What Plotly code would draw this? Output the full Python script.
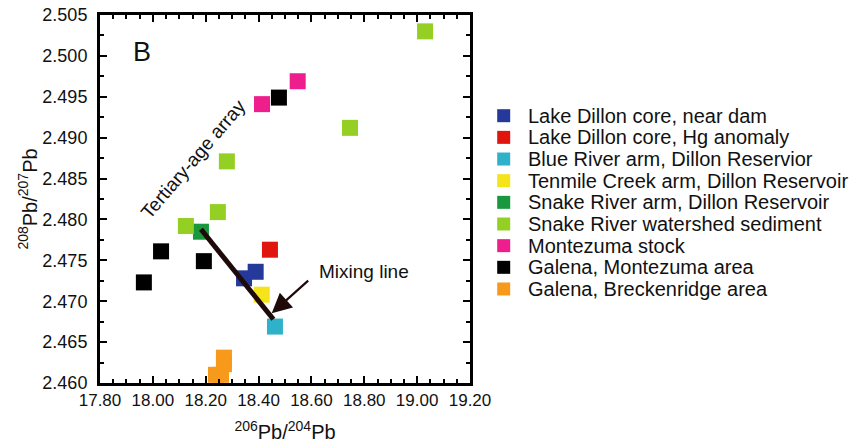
import plotly.graph_objects as go

# ---- data ----
series_names = [
    "Lake Dillon core, near dam",
    "Lake Dillon core, Hg anomaly",
    "Blue River arm, Dillon Reservior",
    "Tenmile Creek arm, Dillon Reservoir",
    "Snake River arm, Dillon Reservoir",
    "Snake River watershed sediment",
    "Montezuma stock",
    "Galena, Montezuma area",
    "Galena, Breckenridge area",
]
series_colors = ["#25399a", "#e0150d", "#2fb2c9", "#f6e41b", "#1a983d",
                 "#94cf23", "#ee1e8c", "#000000", "#f7991a"]

lake_dam_x = [18.345, 18.389]
lake_dam_y = [2.4728, 2.4736]
hg_x = [18.443]
hg_y = [2.4763]
blue_x = [18.462]
blue_y = [2.4669]
tenmile_x = [18.412]
tenmile_y = [2.4708]
snake_arm_x = [18.182]
snake_arm_y = [2.4785]
watershed_x = [19.03, 18.746, 18.28, 18.246, 18.125]
watershed_y = [2.5030, 2.4912, 2.4871, 2.4809, 2.4792]
stock_x = [18.548, 18.413]
stock_y = [2.4969, 2.4941]
gal_mont_x = [18.477, 18.031, 18.193, 17.966]
gal_mont_y = [2.4949, 2.4761, 2.4749, 2.4723]
gal_breck_x = [18.269, 18.269, 18.239, 18.258]
gal_breck_y = [2.4631, 2.4623, 2.4610, 2.4610]

series_x = [lake_dam_x, hg_x, blue_x, tenmile_x, snake_arm_x,
            watershed_x, stock_x, gal_mont_x, gal_breck_x]
series_y = [lake_dam_y, hg_y, blue_y, tenmile_y, snake_arm_y,
            watershed_y, stock_y, gal_mont_y, gal_breck_y]

mixing_x = [18.182, 18.456]
mixing_y = [2.4788, 2.4678]

x_range = [17.8, 19.2]
y_range = [2.460, 2.505]

FONT = "Liberation Sans, Arial, sans-serif"

fig = go.Figure()
for name, color, xs, ys in zip(series_names, series_colors, series_x, series_y):
    fig.add_trace(go.Scatter(
        x=xs, y=ys, mode="markers", name=name, showlegend=False,
        marker=dict(symbol="square", size=16, color=color, line=dict(width=0)),
    ))

fig.add_trace(go.Scatter(
    x=mixing_x, y=mixing_y, mode="lines", showlegend=False,
    line=dict(color="#1f0a0a", width=5),
))

# plot area in pixels
L, T, W, H = 100, 15, 370, 368

annotations = []
shapes = []
# manual legend
leg_y0 = 115.7
leg_dy = 21.66
for i, (name, color) in enumerate(zip(series_names, series_colors)):
    ypx = leg_y0 + i * leg_dy
    py = (T + H - ypx) / H
    shapes.append(dict(
        type="rect", xref="paper", yref="paper",
        xsizemode="pixel", ysizemode="pixel",
        xanchor=(503.7 - L) / W, yanchor=py,
        x0=-6.5, x1=6.5, y0=-6.5, y1=6.5,
        fillcolor=color, line=dict(width=0),
    ))
    annotations.append(dict(
        xref="paper", yref="paper", x=(525.5 - L) / W, y=py,
        xanchor="left", yanchor="middle", showarrow=False,
        text=name, font=dict(family=FONT, size=20, color="#111111"),
    ))

annotations += [
    dict(x=17.958, y=2.5005, xref="x", yref="y", text="B", showarrow=False,
         xanchor="center", yanchor="middle",
         font=dict(family=FONT, size=27, color="#111111")),
    dict(x=18.152, y=2.4873, xref="x", yref="y", text="Tertiary-age array",
         showarrow=False, textangle=-49.5, xanchor="center", yanchor="middle",
         font=dict(family=FONT, size=19, color="#111111")),
    dict(x=18.62, y=2.4736, xref="x", yref="y", text="Mixing line",
         showarrow=False, xanchor="left", yanchor="middle",
         font=dict(family=FONT, size=19, color="#111111")),
    dict(x=18.4496, y=2.46852, xref="x", yref="y", text="", showarrow=True,
         ax=38, ay=-34, arrowhead=2, arrowsize=1.8, arrowwidth=2.2,
         arrowcolor="#1f0a0a"),
]

fig.update_layout(
    width=855, height=443,
    margin=dict(l=L, r=855 - L - W, t=T, b=443 - T - H, pad=0),
    paper_bgcolor="white", plot_bgcolor="white",
    showlegend=False,
    font=dict(family=FONT, color="#111111"),
    shapes=shapes, annotations=annotations,
    xaxis=dict(
        range=x_range, dtick=0.2, tick0=17.8, tickformat=".2f",
        automargin=False,
        showgrid=False, zeroline=False,
        showline=True, linecolor="black", linewidth=3, mirror="ticks",
        ticks="inside", ticklen=7, tickwidth=2, tickcolor="black",
        minor=dict(dtick=0.05, ticks="inside", ticklen=4, tickwidth=1.5,
                   tickcolor="black", showgrid=False),
        tickfont=dict(family=FONT, size=17, color="#111111"),
        title=dict(text="<sup>206</sup>Pb/<sup>204</sup>Pb", standoff=16,
                   font=dict(family=FONT, size=20, color="#111111")),
    ),
    yaxis=dict(
        range=y_range, dtick=0.005, tick0=2.46, tickformat=".3f",
        automargin=False,
        showgrid=False, zeroline=False,
        showline=True, linecolor="black", linewidth=3, mirror="ticks",
        ticks="inside", ticklen=7, tickwidth=2, tickcolor="black",
        minor=dict(dtick=0.0025, ticks="inside", ticklen=4, tickwidth=1.5,
                   tickcolor="black", showgrid=False),
        tickfont=dict(family=FONT, size=18, color="#111111"),
        ticklabelstandoff=6,
        title=dict(text="<sup>208</sup>Pb/<sup>207</sup>Pb", standoff=0,
                   font=dict(family=FONT, size=20, color="#111111")),
    ),
)

fig.write_html(
    "out.html",
    config={"displayModeBar": False},
    post_script="document.body.style.margin='0';document.body.style.padding='0';",
)
